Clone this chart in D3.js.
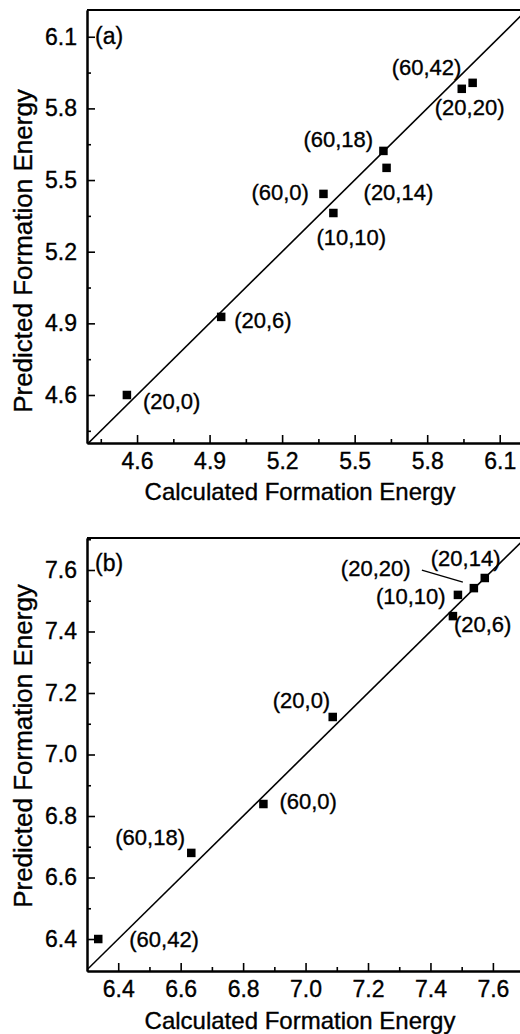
<!DOCTYPE html>
<html>
<head>
<meta charset="utf-8">
<script src="https://cdn.jsdelivr.net/npm/d3@7"></script>
<style>
  body { margin: 0; background: #fff; }
  svg { display: block; font-family: "Liberation Sans", Arial, sans-serif; }
  svg text { stroke: #000; stroke-width: 0.35px; fill: #000; }
</style>
</head>
<body>
<script>
// panel (a)
const labelsA = ["(20,0)", "(20,6)", "(10,10)", "(60,0)", "(60,18)", "(20,14)", "(20,20)", "(60,42)"];
const calcA = [4.558, 4.948, 5.412, 5.371, 5.619, 5.632, 5.943, 5.988];
const predA = [4.600, 4.927, 5.362, 5.442, 5.622, 5.551, 5.882, 5.907];
const ticksA = [4.6, 4.9, 5.2, 5.5, 5.8, 6.1];
const minorA = [4.45, 4.75, 5.05, 5.35, 5.65, 5.95];

// panel (b)
const labelsB = ["(60,42)", "(60,18)", "(60,0)", "(20,0)", "(20,6)", "(10,10)", "(20,20)", "(20,14)"];
const calcB = [6.336, 6.634, 6.865, 7.087, 7.472, 7.488, 7.539, 7.574];
const predB = [6.400, 6.680, 6.839, 7.122, 7.450, 7.519, 7.541, 7.574];
const ticksB = [6.4, 6.6, 6.8, 7.0, 7.2, 7.4, 7.6];
const minorB = [6.5, 6.7, 6.9, 7.1, 7.3, 7.5, 7.7];

// label placement (px offsets from marker centre)
const offA = [[16,14],[13,11],[-17,32],[-72,6],[-80,-4],[-23,32],[-27,26],[-81,-8]];
const offB = [[31,8],[-76,-8],[16,5],[-60,-9],[1,16],[-82,9],[-133,-12],[-54,-12]];

const W = 520, H = 1034;
const svg = d3.select("body").append("svg").attr("width", W).attr("height", H);

function panel(o) {
  const x = d3.scaleLinear().domain(o.xd).range([87, 521]);
  const y = d3.scaleLinear().domain(o.yd).range([o.bottom, o.top]);
  const g = svg.append("g");
  const id = "clip" + o.tag;

  g.append("clipPath").attr("id", id)
    .append("rect").attr("x", 87).attr("y", o.top).attr("width", 440).attr("height", o.bottom - o.top);

  // y = x reference line
  const lo = Math.max(o.xd[0], o.yd[0]), hi = Math.min(o.xd[1], o.yd[1]) + 0.05;
  g.append("line")
    .attr("clip-path", "url(#" + id + ")")
    .attr("x1", x(lo)).attr("y1", y(lo)).attr("x2", x(hi)).attr("y2", y(hi))
    .attr("stroke", "#000").attr("stroke-width", 1.6);

  // axes
  g.append("g").attr("transform", "translate(0," + o.bottom + ")")
    .call(d3.axisBottom(x).tickValues(o.ticks).tickFormat(d3.format(".1f")).tickSize(-8).tickSizeOuter(0).tickPadding(10));
  g.append("g").attr("transform", "translate(0," + o.bottom + ")")
    .call(d3.axisBottom(x).tickValues(o.minor).tickFormat("").tickSize(-4).tickSizeOuter(0));
  g.append("g").attr("transform", "translate(87,0)")
    .call(d3.axisLeft(y).tickValues(o.ticks).tickFormat(d3.format(".1f")).tickSize(-8).tickSizeOuter(0).tickPadding(10));
  g.append("g").attr("transform", "translate(87,0)")
    .call(d3.axisLeft(y).tickValues(o.minor).tickFormat("").tickSize(-4).tickSizeOuter(0));

  g.selectAll(".domain").attr("stroke-width", 2);
  g.selectAll(".tick line").attr("stroke-width", 1.6);
  g.selectAll(".tick text").attr("font-size", 23).attr("font-family", "Liberation Sans, Arial, sans-serif");

  // top border
  g.append("line").attr("x1", 87).attr("x2", 521).attr("y1", o.top).attr("y2", o.top)
    .attr("stroke", "#000").attr("stroke-width", 2);

  // markers
  g.selectAll("rect.pt").data(o.calc).enter().append("rect").attr("class", "pt")
    .attr("x", (d) => x(d) - 4.25)
    .attr("y", (d, i) => y(o.pred[i]) - 4.25)
    .attr("width", 8.5).attr("height", 8.5).attr("fill", "#000");

  g.selectAll("text.lbl").data(o.labels).enter().append("text").attr("class", "lbl")
    .attr("x", (d, i) => x(o.calc[i]) + o.off[i][0])
    .attr("y", (d, i) => y(o.pred[i]) + o.off[i][1])
    .attr("font-size", 22)
    .text(d => d);

  g.append("text").attr("x", 95).attr("y", o.top + o.tagDy).attr("font-size", 23).text("(" + o.tag + ")");

  g.append("text").attr("x", 300).attr("y", o.xTitleY).attr("text-anchor", "middle")
    .attr("font-size", 24).text("Calculated Formation Energy");
  g.append("text").attr("transform", "translate(32," + o.yTitleY + ") rotate(-90)")
    .attr("text-anchor", "middle").attr("font-size", 26).text("Predicted Formation Energy");

  return { x, y, g };
}

panel({ tag: "a", top: 10, bottom: 443, xd: [4.393, 6.188], yd: [4.399, 6.212],
  calc: calcA, pred: predA, labels: labelsA, off: offA, ticks: ticksA, minor: minorA,
  tagDy: 34, xTitleY: 500, yTitleY: 251 });

const pb = panel({ tag: "b", top: 538, bottom: 971, xd: [6.30, 7.69], yd: [6.296, 7.704],
  calc: calcB, pred: predB, labels: labelsB, off: offB, ticks: ticksB, minor: minorB,
  tagDy: 33, xTitleY: 1029, yTitleY: 746 });

// leader line for (20,20) in panel (b)
const k = labelsB.indexOf("(20,20)");
pb.g.append("line")
  .attr("x1", pb.x(calcB[k]) - 52).attr("y1", pb.y(predB[k]) - 18)
  .attr("x2", pb.x(calcB[k]) - 11).attr("y2", pb.y(predB[k]) - 6)
  .attr("stroke", "#000").attr("stroke-width", 1.3);
</script>
</body>
</html>
